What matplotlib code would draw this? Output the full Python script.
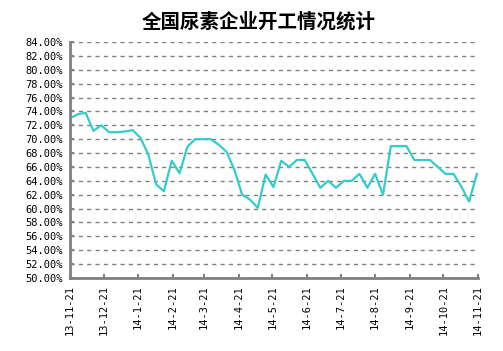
import numpy as np
import pandas as pd
import matplotlib
matplotlib.use('Agg')
import matplotlib.pyplot as plt
import matplotlib.dates as mdates

plt.rcParams['font.family'] = ['DejaVu Sans']

###################################################################################################
title = '全国尿素企业开工情况统计'
start_date = '2013-11-21'
# weekly operating rate (%)
rates = [73.0, 73.6, 73.8, 71.2, 72.0, 71.0, 71.0, 71.1, 71.3, 70.2,
         67.8, 63.5, 62.5, 66.9, 65.1, 68.9, 70.0, 70.0, 70.0, 69.2,
         68.2, 65.6, 62.0, 61.3, 60.1, 64.9, 63.1, 66.9, 66.0, 67.0,
         67.0, 65.0, 63.0, 64.0, 63.0, 64.0, 64.0, 65.0, 63.0, 65.0,
         62.0, 69.0, 69.0, 69.0, 67.0, 67.0, 67.0, 66.0, 65.0, 65.0,
         63.2, 61.0, 65.0]
tick_dates = ['2013-11-21', '2013-12-21', '2014-01-21', '2014-02-21', '2014-03-21',
              '2014-04-21', '2014-05-21', '2014-06-21', '2014-07-21', '2014-08-21',
              '2014-09-21', '2014-10-21', '2014-11-21']
y_ticks = np.arange(50, 84.01, 2)
###################################################################################################

dates = pd.date_range(start_date, periods=len(rates), freq='7D')
ticks = pd.to_datetime(tick_dates)

fig = plt.figure(figsize=(5.03, 3.51), dpi=100)
ax = fig.add_axes([70/503, 1-278/351, 408/503, 236/351])

ax.plot(dates, rates, color='#33CCCC', lw=1.6)

ax.set_xlim(ticks[0], ticks[-1])
ax.set_ylim(50, 84)
ax.set_yticks(y_ticks)
ax.set_yticklabels(['%.2f%%' % v for v in y_ticks], fontsize=7.5, family='DejaVu Sans Mono')
ax.set_xticks(ticks)
ax.set_xticklabels(['%d-%d-%d' % (d.year % 100, d.month, d.day) for d in ticks],
                   rotation=90, fontsize=7.5, family='DejaVu Sans Mono')

ax.grid(axis='y', color='#808080', linestyle=(0, (3, 3)), lw=1)
ax.set_axisbelow(True)
for s in ['top', 'right']:
    ax.spines[s].set_visible(False)
for s in ['left', 'bottom']:
    ax.spines[s].set_color('#808080')
    ax.spines[s].set_linewidth(2)
ax.tick_params(direction='in', length=3, width=1.5, color='#808080', pad=5)

fig.text(0.515, 0.937, title, ha='center', va='center', fontsize=14, fontweight='bold',
         family=['Noto Sans CJK SC', 'DejaVu Sans'])

plt.savefig('out.png', dpi=100)
